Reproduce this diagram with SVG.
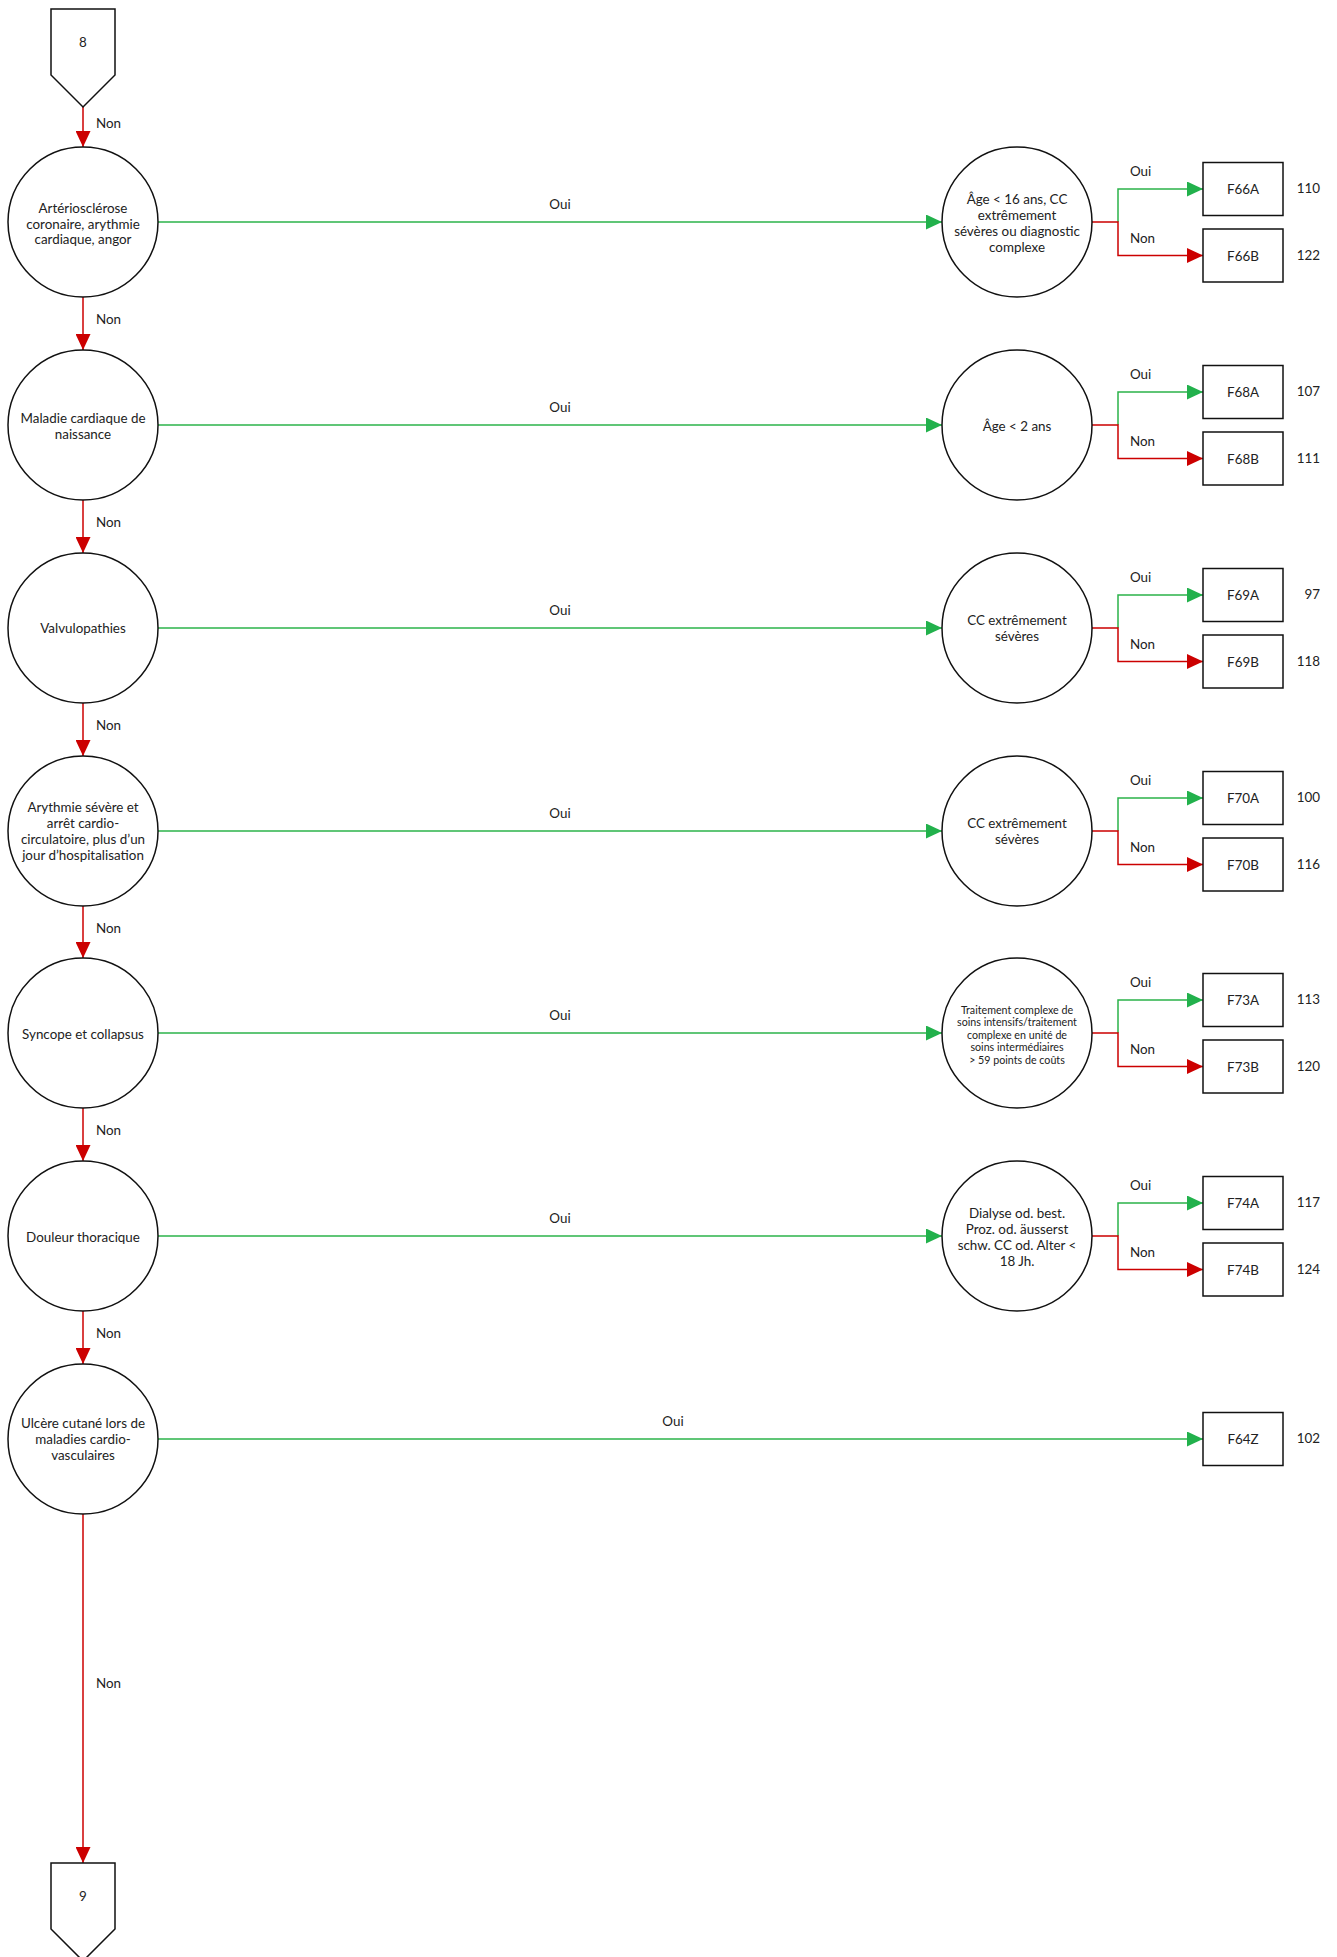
<svg xmlns="http://www.w3.org/2000/svg" width="1337" height="1957" viewBox="0 0 1337 1957">
<style>
text{font-family:Lato,"Noto Sans","Liberation Sans",sans-serif;font-size:13.4px;fill:#222;dominant-baseline:central}
.c{text-anchor:middle}
.s{font-size:10.7px}
.n{text-anchor:end}
.node{fill:#fff;stroke:#111;stroke-width:1.5}
.g{stroke:#2bb34a;stroke-width:1.5;fill:none}
.r{stroke:#cc0000;stroke-width:1.5;fill:none}
.ga{marker-end:url(#ag)}
.ra{marker-end:url(#ar)}
</style>
<defs>
<marker id="ag" markerUnits="userSpaceOnUse" markerWidth="16" markerHeight="15" refX="16" refY="7.5" orient="auto"><path d="M0,0 L16,7.5 L0,15 z" fill="#22b14c"/></marker>
<marker id="ar" markerUnits="userSpaceOnUse" markerWidth="16" markerHeight="15" refX="16" refY="7.5" orient="auto"><path d="M0,0 L16,7.5 L0,15 z" fill="#cc0000"/></marker>
</defs>
<rect width="1337" height="1957" fill="#fff"/>

<g id="connectors">
<line class="r ra" x1="83" y1="107" x2="83" y2="147"/>
<line class="r ra" x1="83" y1="297" x2="83" y2="350"/>
<line class="r ra" x1="83" y1="500" x2="83" y2="553"/>
<line class="r ra" x1="83" y1="703" x2="83" y2="756"/>
<line class="r ra" x1="83" y1="906" x2="83" y2="958"/>
<line class="r ra" x1="83" y1="1108" x2="83" y2="1161"/>
<line class="r ra" x1="83" y1="1311" x2="83" y2="1364"/>
<line class="r ra" x1="83" y1="1514" x2="83" y2="1863"/>
<text x="96" y="123">Non</text>
<text x="96" y="319">Non</text>
<text x="96" y="522">Non</text>
<text x="96" y="725">Non</text>
<text x="96" y="928">Non</text>
<text x="96" y="1130">Non</text>
<text x="96" y="1333">Non</text>
<text x="96" y="1683">Non</text>
<line class="g ga" x1="158" y1="222" x2="942" y2="222"/>
<line class="g ga" x1="158" y1="425" x2="942" y2="425"/>
<line class="g ga" x1="158" y1="628" x2="942" y2="628"/>
<line class="g ga" x1="158" y1="831" x2="942" y2="831"/>
<line class="g ga" x1="158" y1="1033" x2="942" y2="1033"/>
<line class="g ga" x1="158" y1="1236" x2="942" y2="1236"/>
<line class="g ga" x1="158" y1="1439" x2="1203" y2="1439"/>
<text class="c" x="560" y="204">Oui</text>
<text class="c" x="560" y="407">Oui</text>
<text class="c" x="560" y="610">Oui</text>
<text class="c" x="560" y="813">Oui</text>
<text class="c" x="560" y="1015">Oui</text>
<text class="c" x="560" y="1218">Oui</text>
<text class="c" x="673" y="1421">Oui</text>
<g>
<path class="g ga" d="M1118,222 V189 H1203"/><path class="r ra" d="M1092,222 H1118 V255.5 H1203"/>
<text x="1130" y="171">Oui</text><text x="1130" y="238">Non</text>
</g>
<g>
<path class="g ga" d="M1118,425 V392 H1203"/><path class="r ra" d="M1092,425 H1118 V458.5 H1203"/>
<text x="1130" y="374">Oui</text><text x="1130" y="441">Non</text>
</g>
<g>
<path class="g ga" d="M1118,628 V595 H1203"/><path class="r ra" d="M1092,628 H1118 V661.5 H1203"/>
<text x="1130" y="577">Oui</text><text x="1130" y="644">Non</text>
</g>
<g>
<path class="g ga" d="M1118,831 V798 H1203"/><path class="r ra" d="M1092,831 H1118 V864.5 H1203"/>
<text x="1130" y="780">Oui</text><text x="1130" y="847">Non</text>
</g>
<g>
<path class="g ga" d="M1118,1033 V1000 H1203"/><path class="r ra" d="M1092,1033 H1118 V1066.5 H1203"/>
<text x="1130" y="982">Oui</text><text x="1130" y="1049">Non</text>
</g>
<g>
<path class="g ga" d="M1118,1236 V1203 H1203"/><path class="r ra" d="M1092,1236 H1118 V1269.5 H1203"/>
<text x="1130" y="1185">Oui</text><text x="1130" y="1252">Non</text>
</g>
</g>

<g id="off8"><path class="node" d="M51,9 H115 V75 L83,107 L51,75 Z"/><text class="c" x="83" y="42">8</text></g>
<g id="off9"><path class="node" d="M51,1863 H115 V1929 L83,1961 L51,1929 Z"/><text class="c" x="83" y="1896">9</text></g>

<g id="q1"><circle class="node" cx="83" cy="222" r="75"/><text class="c" x="83" y="208">Artériosclérose</text><text class="c" x="83" y="223.5">coronaire, arythmie</text><text class="c" x="83" y="239">cardiaque, angor</text></g>
<g id="q2"><circle class="node" cx="83" cy="425" r="75"/><text class="c" x="83" y="418">Maladie cardiaque de</text><text class="c" x="83" y="434">naissance</text></g>
<g id="q3"><circle class="node" cx="83" cy="628" r="75"/><text class="c" x="83" y="628">Valvulopathies</text></g>
<g id="q4"><circle class="node" cx="83" cy="831" r="75"/><text class="c" x="83" y="807">Arythmie sévère et</text><text class="c" x="83" y="823">arrêt cardio-</text><text class="c" x="83" y="839">circulatoire, plus d’un</text><text class="c" x="83" y="855">jour d’hospitalisation</text></g>
<g id="q5"><circle class="node" cx="83" cy="1033" r="75"/><text class="c" x="83" y="1034">Syncope et collapsus</text></g>
<g id="q6"><circle class="node" cx="83" cy="1236" r="75"/><text class="c" x="83" y="1237">Douleur thoracique</text></g>
<g id="q7"><circle class="node" cx="83" cy="1439" r="75"/><text class="c" x="83" y="1423">Ulcère cutané lors de</text><text class="c" x="83" y="1439">maladies cardio-</text><text class="c" x="83" y="1455">vasculaires</text></g>

<g id="d1"><circle class="node" cx="1017" cy="222" r="75"/><text class="c" x="1017" y="199">Âge &lt; 16 ans, CC</text><text class="c" x="1017" y="215">extrêmement</text><text class="c" x="1017" y="231">sévères ou diagnostic</text><text class="c" x="1017" y="247">complexe</text></g>
<g id="d2"><circle class="node" cx="1017" cy="425" r="75"/><text class="c" x="1017" y="426">Âge &lt; 2 ans</text></g>
<g id="d3"><circle class="node" cx="1017" cy="628" r="75"/><text class="c" x="1017" y="620">CC extrêmement</text><text class="c" x="1017" y="636">sévères</text></g>
<g id="d4"><circle class="node" cx="1017" cy="831" r="75"/><text class="c" x="1017" y="823">CC extrêmement</text><text class="c" x="1017" y="839">sévères</text></g>
<g id="d5"><circle class="node" cx="1017" cy="1033" r="75"/><text class="c s" x="1017" y="1009">Traitement complexe de</text><text class="c s" x="1017" y="1021.5">soins intensifs/traitement</text><text class="c s" x="1017" y="1034">complexe en unité de</text><text class="c s" x="1017" y="1046.5">soins intermédiaires</text><text class="c s" x="1017" y="1059">&gt; 59 points de coûts</text></g>
<g id="d6"><circle class="node" cx="1017" cy="1236" r="75"/><text class="c" x="1017" y="1213">Dialyse od. best.</text><text class="c" x="1017" y="1229">Proz. od. äusserst</text><text class="c" x="1017" y="1245">schw. CC od. Alter &lt;</text><text class="c" x="1017" y="1261">18 Jh.</text></g>

<g id="F66A"><rect class="node" x="1203" y="162.5" width="80" height="53"/><text class="c" x="1243" y="189">F66A</text><text class="n" x="1320" y="188">110</text></g>
<g id="F66B"><rect class="node" x="1203" y="229" width="80" height="53"/><text class="c" x="1243" y="255.5">F66B</text><text class="n" x="1320" y="254.5">122</text></g>
<g id="F68A"><rect class="node" x="1203" y="365.5" width="80" height="53"/><text class="c" x="1243" y="392">F68A</text><text class="n" x="1320" y="391">107</text></g>
<g id="F68B"><rect class="node" x="1203" y="432" width="80" height="53"/><text class="c" x="1243" y="458.5">F68B</text><text class="n" x="1320" y="457.5">111</text></g>
<g id="F69A"><rect class="node" x="1203" y="568.5" width="80" height="53"/><text class="c" x="1243" y="595">F69A</text><text class="n" x="1320" y="594">97</text></g>
<g id="F69B"><rect class="node" x="1203" y="635" width="80" height="53"/><text class="c" x="1243" y="661.5">F69B</text><text class="n" x="1320" y="660.5">118</text></g>
<g id="F70A"><rect class="node" x="1203" y="771.5" width="80" height="53"/><text class="c" x="1243" y="798">F70A</text><text class="n" x="1320" y="797">100</text></g>
<g id="F70B"><rect class="node" x="1203" y="838" width="80" height="53"/><text class="c" x="1243" y="864.5">F70B</text><text class="n" x="1320" y="863.5">116</text></g>
<g id="F73A"><rect class="node" x="1203" y="973.5" width="80" height="53"/><text class="c" x="1243" y="1000">F73A</text><text class="n" x="1320" y="999">113</text></g>
<g id="F73B"><rect class="node" x="1203" y="1040" width="80" height="53"/><text class="c" x="1243" y="1066.5">F73B</text><text class="n" x="1320" y="1065.5">120</text></g>
<g id="F74A"><rect class="node" x="1203" y="1176.5" width="80" height="53"/><text class="c" x="1243" y="1203">F74A</text><text class="n" x="1320" y="1202">117</text></g>
<g id="F74B"><rect class="node" x="1203" y="1243" width="80" height="53"/><text class="c" x="1243" y="1269.5">F74B</text><text class="n" x="1320" y="1268.5">124</text></g>
<g id="F64Z"><rect class="node" x="1203" y="1412.5" width="80" height="53"/><text class="c" x="1243" y="1439">F64Z</text><text class="n" x="1320" y="1438">102</text></g>
</svg>
